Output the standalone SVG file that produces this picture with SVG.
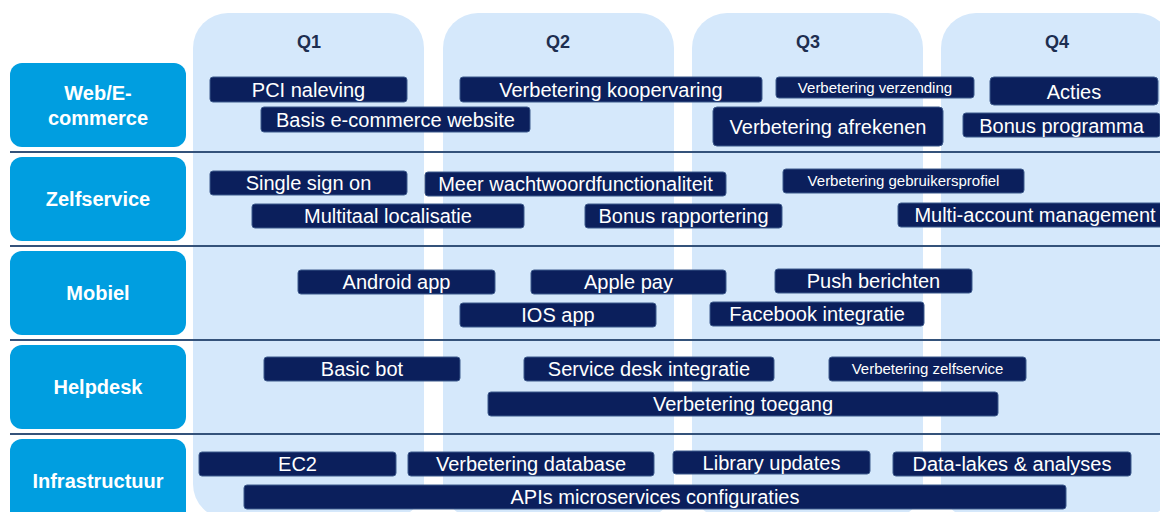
<svg xmlns="http://www.w3.org/2000/svg" width="1160" height="512" viewBox="0 0 1160 512">
  <style>
    .col { fill: #d5e8fb; }
    .qlabel { font-family: "Liberation Sans", Arial, sans-serif; font-size: 18px; font-weight: bold; fill: #1d2e50; text-anchor: middle; }
    .lane { fill: #009ee0; }
    .lane-text { font-family: "Liberation Sans", Arial, sans-serif; font-size: 20px; font-weight: bold; fill: #ffffff; text-anchor: middle; }
    .sep { stroke: #34527a; stroke-width: 2; }
    .bar { fill: #0b1f5c; stroke: #3d5a8c; stroke-width: 1; }
    .bar-text { font-family: "Liberation Sans", Arial, sans-serif; font-size: 20px; fill: #ffffff; text-anchor: middle; }
    .bar-text.small { font-size: 15px; }
  </style>

  <rect width="1160" height="512" fill="#ffffff"/>

  <!-- quarter columns -->
  <g id="quarters">
    <g id="q1"><rect class="col" x="193" y="13" width="231" height="506" rx="35"/><text class="qlabel" x="309" y="48">Q1</text></g>
    <g id="q2"><rect class="col" x="443" y="13" width="231" height="506" rx="35"/><text class="qlabel" x="558" y="48">Q2</text></g>
    <g id="q3"><rect class="col" x="692" y="13" width="231" height="506" rx="35"/><text class="qlabel" x="808" y="48">Q3</text></g>
    <g id="q4"><rect class="col" x="941" y="13" width="231" height="506" rx="35"/><text class="qlabel" x="1057" y="48">Q4</text></g>
  </g>

  <!-- lane separators -->
  <g id="separators">
    <line class="sep" x1="10" y1="152" x2="1160" y2="152"/>
    <line class="sep" x1="10" y1="246" x2="1160" y2="246"/>
    <line class="sep" x1="10" y1="340" x2="1160" y2="340"/>
    <line class="sep" x1="10" y1="434" x2="1160" y2="434"/>
  </g>

  <!-- lane headers -->
  <g id="lanes">
    <g id="lane-web"><rect class="lane" x="10" y="63" width="176" height="84" rx="12"/><text class="lane-text" x="98" y="100">Web/E-</text><text class="lane-text" x="98" y="125">commerce</text></g>
    <g id="lane-zelfservice"><rect class="lane" x="10" y="157" width="176" height="84" rx="12"/><text class="lane-text" x="98" y="206">Zelfservice</text></g>
    <g id="lane-mobiel"><rect class="lane" x="10" y="251" width="176" height="84" rx="12"/><text class="lane-text" x="98" y="300">Mobiel</text></g>
    <g id="lane-helpdesk"><rect class="lane" x="10" y="345" width="176" height="84" rx="12"/><text class="lane-text" x="98" y="394">Helpdesk</text></g>
    <g id="lane-infra"><rect class="lane" x="10" y="439" width="176" height="84" rx="12"/><text class="lane-text" x="98" y="488">Infrastructuur</text></g>
  </g>

  <!-- roadmap items -->
  <g id="items">
    <g id="pci"><rect class="bar" x="210" y="77" width="197" height="25" rx="3"/><text class="bar-text" x="308.5" y="97">PCI naleving</text></g>
    <g id="basis-website"><rect class="bar" x="261" y="107" width="269" height="25" rx="3"/><text class="bar-text" x="395.5" y="127">Basis e-commerce website</text></g>
    <g id="koopervaring"><rect class="bar" x="460" y="77" width="302" height="25" rx="3"/><text class="bar-text" x="611" y="97">Verbetering koopervaring</text></g>
    <g id="verzending"><rect class="bar" x="776" y="77" width="198" height="21" rx="3"/><text class="bar-text small" x="875" y="92.5">Verbetering verzending</text></g>
    <g id="acties"><rect class="bar" x="990" y="77" width="168" height="28" rx="4"/><text class="bar-text" x="1074" y="98.5">Acties</text></g>
    <g id="afrekenen"><rect class="bar" x="713" y="107" width="230" height="39" rx="4"/><text class="bar-text" x="828" y="134">Verbetering afrekenen</text></g>
    <g id="bonus-programma"><rect class="bar" x="963" y="113" width="197" height="24" rx="3"/><text class="bar-text" x="1061.5" y="132.5">Bonus programma</text></g>

    <g id="sso"><rect class="bar" x="210" y="171" width="197" height="24" rx="3"/><text class="bar-text" x="308.5" y="190">Single sign on</text></g>
    <g id="wachtwoord"><rect class="bar" x="425" y="172" width="301" height="24" rx="3"/><text class="bar-text" x="575.5" y="191">Meer wachtwoordfunctionaliteit</text></g>
    <g id="multitaal"><rect class="bar" x="252" y="204" width="272" height="24" rx="3"/><text class="bar-text" x="388" y="223">Multitaal localisatie</text></g>
    <g id="gebruikersprofiel"><rect class="bar" x="783" y="169" width="241" height="24" rx="3"/><text class="bar-text small" x="903.5" y="186">Verbetering gebruikersprofiel</text></g>
    <g id="bonus-rapportering"><rect class="bar" x="585" y="204" width="197" height="24" rx="3"/><text class="bar-text" x="683.5" y="223">Bonus rapportering</text></g>
    <g id="multi-account"><rect class="bar" x="898" y="203" width="274" height="24" rx="3"/><text class="bar-text" x="1035" y="222">Multi-account management</text></g>

    <g id="android"><rect class="bar" x="298" y="270" width="197" height="24" rx="3"/><text class="bar-text" x="396.5" y="289">Android app</text></g>
    <g id="apple-pay"><rect class="bar" x="531" y="270" width="195" height="24" rx="3"/><text class="bar-text" x="628.5" y="289">Apple pay</text></g>
    <g id="ios"><rect class="bar" x="460" y="303" width="196" height="24" rx="3"/><text class="bar-text" x="558" y="322">IOS app</text></g>
    <g id="push"><rect class="bar" x="775" y="269" width="197" height="24" rx="3"/><text class="bar-text" x="873.5" y="288">Push berichten</text></g>
    <g id="facebook"><rect class="bar" x="710" y="302" width="214" height="24" rx="3"/><text class="bar-text" x="817" y="321">Facebook integratie</text></g>

    <g id="basic-bot"><rect class="bar" x="264" y="357" width="196" height="24" rx="3"/><text class="bar-text" x="362" y="376">Basic bot</text></g>
    <g id="service-desk"><rect class="bar" x="524" y="357" width="250" height="24" rx="3"/><text class="bar-text" x="649" y="376">Service desk integratie</text></g>
    <g id="zelfservice-item"><rect class="bar" x="829" y="357" width="197" height="24" rx="3"/><text class="bar-text small" x="927.5" y="374">Verbetering zelfservice</text></g>
    <g id="toegang"><rect class="bar" x="488" y="392" width="510" height="24" rx="3"/><text class="bar-text" x="743" y="411">Verbetering toegang</text></g>

    <g id="ec2"><rect class="bar" x="199" y="452" width="197" height="24" rx="3"/><text class="bar-text" x="297.5" y="471">EC2</text></g>
    <g id="database"><rect class="bar" x="408" y="452" width="246" height="24" rx="3"/><text class="bar-text" x="531" y="471">Verbetering database</text></g>
    <g id="library"><rect class="bar" x="673" y="451" width="197" height="23" rx="3"/><text class="bar-text" x="771.5" y="469.5">Library updates</text></g>
    <g id="data-lakes"><rect class="bar" x="893" y="452" width="238" height="24" rx="3"/><text class="bar-text" x="1012" y="471">Data-lakes &amp; analyses</text></g>
    <g id="apis"><rect class="bar" x="244" y="485" width="822" height="24" rx="3"/><text class="bar-text" x="655" y="504">APIs microservices configuraties</text></g>
  </g>
</svg>
